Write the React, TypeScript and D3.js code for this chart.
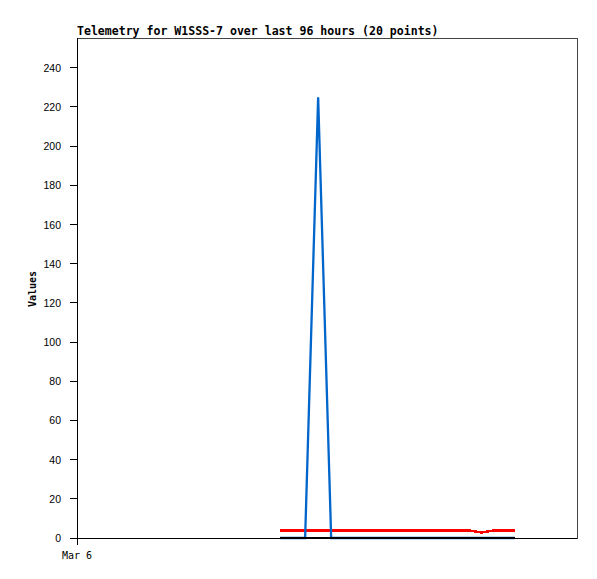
import React from "react";
import * as d3 from "d3";

const TITLE = "Telemetry for W1SSS-7 over last 96 hours (20 points)";
const Y_LABEL = "Values";
const X_TICK_LABELS = ["Mar 6"];
const X_TICK_HOURS = [0];
const HOURS_SPAN = 96;
const Y_TICKS = [0, 20, 40, 60, 80, 100, 120, 140, 160, 180, 200, 220, 240];

// sample times, hours after the start of the window
const TIMES = [39.0, 41.4, 43.8, 46.3, 48.8, 51.15, 53.5, 55.85, 58.2, 60.55, 62.9, 65.25, 67.6, 69.95, 72.3, 75.4, 77.7, 79.9, 82.0, 84.05];
const BLUE_VALUES = [0, 0, 0, 225, 0, 0, 0, 0, 0, 0, 0, 0, 0, 0, 0, 0, 0, 0, 0, 0];
const RED_VALUES = [3.8, 3.8, 3.8, 3.8, 3.8, 3.8, 3.8, 3.8, 3.8, 3.8, 3.8, 3.8, 3.8, 3.8, 3.8, 3.8, 2.8, 3.8, 3.8, 3.8];
const BLACK_VALUES = [0, 0, 0, 0, 0, 0, 0, 0, 0, 0, 0, 0, 0, 0, 0, 0, 0, 0, 0, 0];

export default function App() {
  const W = 597, H = 579;
  const left = 77, right = 577, top = 38, bottom = 538;
  const x = d3.scaleLinear().domain([0, HOURS_SPAN]).range([left, right]);
  const y = d3.scaleLinear().domain([0, 255.2]).range([bottom, top]);
  const line = (vals: number[]) =>
    d3.line<number>().x((_, i) => x(TIMES[i])).y((d) => y(d))(vals) || "";

  return (
    <svg width={W} height={H} style={{ position: "absolute", left: 0, top: 0, background: "#fff" }}>
      <rect x={0} y={0} width={W} height={H} fill="#fff" />
      <text x={left} y={35} fontFamily="DejaVu Sans Mono" fontWeight="bold" fontSize={11.55} fill="#000">
        {TITLE}
      </text>
      <rect x={left} y={top} width={right - left} height={bottom - top} fill="none" stroke="#444" strokeWidth={1} shapeRendering="crispEdges" />
      <path d={line(RED_VALUES)} fill="none" stroke="#ff0000" strokeWidth={2.5} shapeRendering="crispEdges" />
      <path d={line(BLUE_VALUES)} fill="none" stroke="#0066cc" strokeWidth={2.3} strokeLinejoin="miter" />
      <path d={line(BLACK_VALUES)} fill="none" stroke="#000" strokeWidth={2.2} shapeRendering="crispEdges" />
      <line x1={left} x2={left} y1={top} y2={bottom + 7} stroke="#000" shapeRendering="crispEdges" />
      <line x1={left} x2={right} y1={bottom} y2={bottom} stroke="#000" shapeRendering="crispEdges" />
      {Y_TICKS.map((t) => (
        <g key={t}>
          <line x1={left - 7} x2={left} y1={y(t)} y2={y(t)} stroke="#000" shapeRendering="crispEdges" />
          <text x={61} y={y(t) + 4} textAnchor="end" fontFamily="Liberation Sans" fontSize={10.5} fill="#000">
            {t}
          </text>
        </g>
      ))}
      {X_TICK_HOURS.map((h, i) => (
        <text key={i} x={x(h)} y={559} textAnchor="middle" fontFamily="DejaVu Sans Mono" fontSize={10} fill="#000">
          {X_TICK_LABELS[i]}
        </text>
      ))}
      <text
        transform={`translate(35.5,289) rotate(-90)`}
        textAnchor="middle"
        fontFamily="DejaVu Sans Mono"
        fontWeight="bold"
        fontSize={10}
        fill="#000"
      >
        {Y_LABEL}
      </text>
    </svg>
  );
}
